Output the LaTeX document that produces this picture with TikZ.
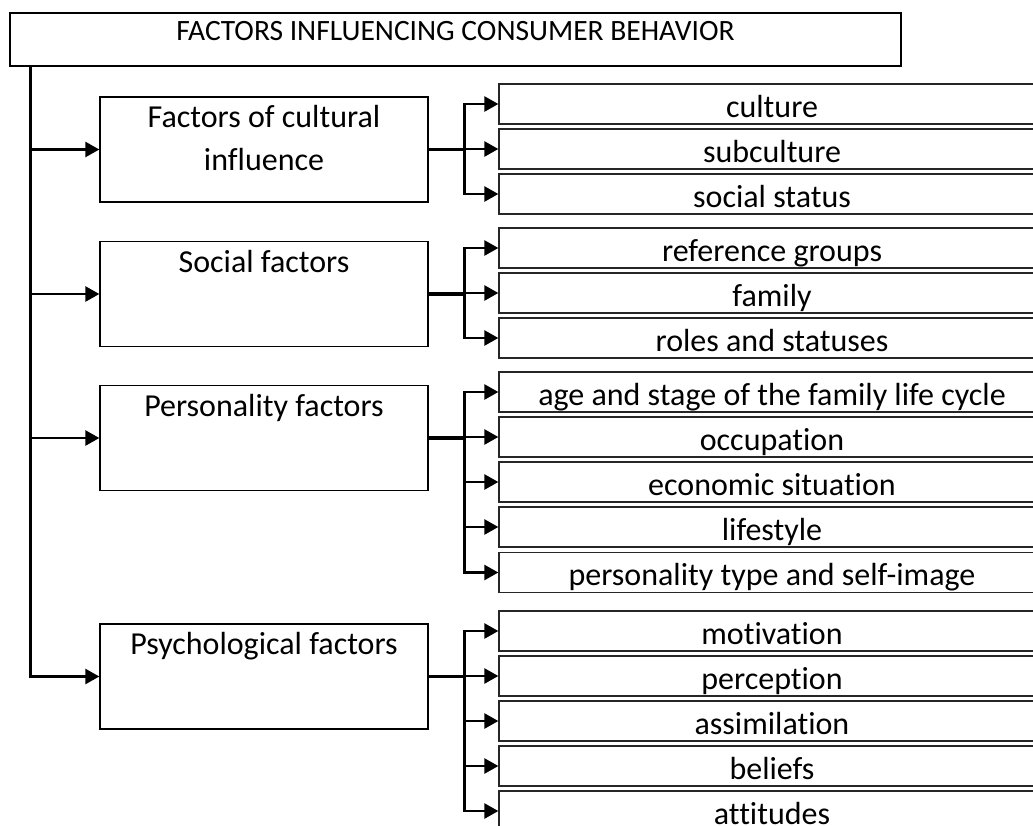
\documentclass[tikz,border=0pt]{standalone}
\usepackage{fontspec}
\setmainfont{Carlito}[Ligatures=CommonOff]
\usetikzlibrary{arrows.meta,positioning}

\begin{document}
\begin{tikzpicture}[x=1pt,y=-1pt,
  box/.style={draw,line width=1.3pt,inner sep=0pt},
  topbox/.style={box,minimum width=891pt,minimum height=53pt},
  mainbox/.style={box,minimum width=328pt,minimum height=105pt},
  subbox/.style={box,draw=black!85,minimum width=546pt,minimum height=40pt,
    text height=26pt,text depth=0pt,font=\fontsize{32}{38}\selectfont},
  boxtext/.style={font=\fontsize{32}{43}\selectfont,align=center,anchor=north,inner sep=0pt},
  branch/.style={line width=3.2pt},
  arrow/.style={line width=2.5pt,-{Triangle[length=14pt,width=15pt]}}]
\useasboundingbox (0,0) rectangle (1033,825);
\clip (0,0) rectangle (1033,825);

% heading
\node[topbox] (title) at (455.5,39.5) {};
\node[boxtext,font=\fontsize{29.5}{34}\selectfont] (titletxt) at ([yshift=-9pt]title.north) {FACTORS INFLUENCING CONSUMER BEHAVIOR};

% groups of factors
\node[mainbox] (cult) at (264,149.5) {};
\node[mainbox] (social) at (264,294) {};
\node[mainbox] (person) at (264,438) {};
\node[mainbox] (psych) at (264,676.5) {};
\node[boxtext] (culttxt) at ([yshift=-9pt]cult.north) {Factors of cultural\\influence};
\node[boxtext] (socialtxt) at ([yshift=-9pt]social.north) {Social factors};
\node[boxtext] (persontxt) at ([yshift=-9pt]person.north) {Personality factors};
\node[boxtext] (psychtxt) at ([yshift=-9pt]psych.north) {Psychological factors};

% single factors
\foreach \nm/\yy/\txt in {culture/104/culture, subcult/149/subculture, socstat/194/social status,
    refgr/248/reference groups, family/293/family, roles/338/roles and statuses,
    age/392/age and stage of the family life cycle, occup/437/occupation,
    econ/482/economic situation, life/527/lifestyle, ptype/572.5/personality type and self-image,
    motiv/631/motivation, percep/676/perception, assim/721/assimilation,
    belief/766/beliefs, attit/811/attitudes}
  \node[subbox] (\nm) at (772,\yy) {\txt};

% trunk
\coordinate (trunktop) at ([xshift=21pt]title.south west);
\draw[arrow] (trunktop) |- (psych.west);
\foreach \nm in {cult,social,person}
  \draw[arrow] (trunktop |- \nm.west) -- (\nm.west);

% branches
\foreach \grp in {cult,social,person,psych}{
  \coordinate (\grp br) at ([xshift=36pt]\grp.east);
  \draw[branch] (\grp.east) -- (\grp br);
}
\foreach \nm in {culture,subcult,socstat}
  \draw[arrow] (cultbr) |- (\nm.west);
\foreach \nm in {refgr,family,roles}
  \draw[arrow] (socialbr) |- (\nm.west);
\foreach \nm in {age,occup,econ,life,ptype}
  \draw[arrow] (personbr) |- (\nm.west);
\foreach \nm in {motiv,percep,assim,belief,attit}
  \draw[arrow] (psychbr) |- (\nm.west);
\end{tikzpicture}
\end{document}
